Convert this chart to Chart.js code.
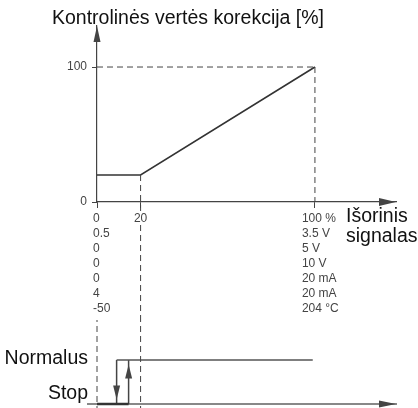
<!DOCTYPE html>
<html>
<head>
<meta charset="utf-8">
<script src="https://cdn.jsdelivr.net/npm/chart.js@4.4.1/dist/chart.umd.min.js"></script>
<style>
  body { margin: 0; background: #fff; }
  #wrap { position: relative; width: 418px; height: 408px; overflow: hidden; }
  canvas { position: absolute; left: 0; }
  #curve { top: 0; }
  #state { top: 320px; }
</style>
</head>
<body>
<div id="wrap">
  <canvas id="curve" width="418" height="320"></canvas>
  <canvas id="state" width="418" height="88"></canvas>
</div>
<script>
// correction curve: external signal (%) -> setpoint correction (%)
var signal = [0, 20, 100];
var correction = [20, 20, 100];
var xTicks = [0, 20, 100];
var yTicks = [0, 100];
var minLabels = ["0", "0.5", "0", "0", "0", "4", "-50"];
var maxLabels = ["100 %", "3.5 V", "5 V", "10 V", "20 mA", "20 mA", "204 °C"];

// stop / normal switching (hysteresis), 0 = Stop, 1 = Normalus
var states = ["Stop", "Normalus"];
var switchPoints = [9, 14.5]; // drop to Stop, back to Normalus
var normalEnd = 99;

var FONT = '"Liberation Sans", Arial, sans-serif';
var AXIS = "#444";

function arrowHead(ctx, x, y, dx, dy, len, half, color) {
  ctx.save();
  ctx.fillStyle = color;
  ctx.beginPath();
  ctx.moveTo(x, y);
  ctx.lineTo(x - dx * len - dy * half, y - dy * len + dx * half);
  ctx.lineTo(x - dx * len + dy * half, y - dy * len - dx * half);
  ctx.closePath();
  ctx.fill();
  ctx.restore();
}

function dashed(points) {
  return {
    data: points,
    borderColor: AXIS,
    borderWidth: 1,
    borderDash: [6, 4],
    pointRadius: 0,
    clip: false,
  };
}

var curveDeco = {
  id: "curveDeco",
  afterDraw: function (chart) {
    var ctx = chart.ctx;
    var a = chart.chartArea;
    var xs = chart.scales.x;
    arrowHead(ctx, a.left, a.top, 0, -1, 16, 3.5, AXIS);
    arrowHead(ctx, a.right, a.bottom, 1, 0, 17, 4, AXIS);

    ctx.save();
    ctx.fillStyle = "#111";
    ctx.textBaseline = "alphabetic";
    ctx.font = "19.5px " + FONT;
    ctx.textAlign = "left";
    ctx.fillText("Kontrolinės vertės korekcija [%]", 52, 24);
    ctx.fillText("Išorinis", 346, 222);
    ctx.fillText("signalas", 346, 242);

    // signal range columns under the axis
    ctx.font = "12px " + FONT;
    ctx.fillStyle = "#444";
    var base = a.bottom + 20;
    var x0 = xs.getPixelForValue(xTicks[0]);
    var x1 = xs.getPixelForValue(xTicks[1]);
    var x2 = xs.getPixelForValue(xTicks[2]);
    minLabels.forEach(function (t, i) {
      ctx.textAlign = "left";
      ctx.fillText(t, x0 - 4, base + i * 15);
    });
    maxLabels.forEach(function (t, i) {
      ctx.textAlign = "left";
      ctx.fillText(t, x2 - 13, base + i * 15);
    });
    ctx.textAlign = "center";
    var w = ctx.measureText(String(xTicks[1])).width;
    ctx.fillStyle = "#fff";
    ctx.fillRect(x1 - w / 2 - 1, base - 11, w + 2, 14);
    ctx.fillStyle = "#444";
    ctx.fillText(String(xTicks[1]), x1, base);
    ctx.restore();
  },
};

new Chart(document.getElementById("curve"), {
  type: "line",
  data: {
    datasets: [
      dashed([{ x: 0, y: 100 }, { x: 100, y: 100 }]),
      dashed([{ x: 100, y: 100 }, { x: 100, y: 0 }]),
      dashed([{ x: 20, y: 20 }, { x: 20, y: -100 }]),
      {
        data: signal.map(function (v, i) { return { x: v, y: correction[i] }; }),
        borderColor: "#333",
        borderWidth: 1.6,
        pointRadius: 0,
        clip: false,
      },
    ],
  },
  options: {
    responsive: false,
    animation: false,
    layout: { padding: { top: 26, right: 22, left: 0, bottom: 0 } },
    scales: {
      x: {
        type: "linear",
        min: 0,
        max: 137.2,
        grid: { drawOnChartArea: false, tickLength: 6, color: AXIS },
        border: { color: AXIS, width: 1.2 },
        ticks: { display: false },
        afterBuildTicks: function (s) {
          s.ticks = xTicks.map(function (v) { return { value: v }; });
        },
        afterFit: function (s) { s.height = 118; },
      },
      y: {
        type: "linear",
        min: 0,
        max: 130.4,
        grid: { drawOnChartArea: false, tickLength: 5, color: AXIS },
        border: { color: AXIS, width: 1.2 },
        ticks: { color: "#444", padding: 5, font: { size: 12, family: FONT } },
        afterBuildTicks: function (s) {
          s.ticks = yTicks.map(function (v) { return { value: v }; });
        },
        afterFit: function (s) { s.width = 97; },
      },
    },
    plugins: { legend: { display: false }, tooltip: { enabled: false } },
  },
  plugins: [curveDeco],
});

var stateDeco = {
  id: "stateDeco",
  afterDraw: function (chart) {
    var ctx = chart.ctx;
    var a = chart.chartArea;
    var ys = chart.scales.y;
    arrowHead(ctx, a.right, a.bottom, 1, 0, 17, 3.5, AXIS);

    // heads on the switching arrows
    chart.data.datasets.forEach(function (ds, i) {
      if (!ds.arrow) return;
      var pts = chart.getDatasetMeta(i).data;
      var p0 = pts[0], p1 = pts[1];
      var dx = p1.x - p0.x, dy = p1.y - p0.y;
      var len = Math.sqrt(dx * dx + dy * dy);
      dx /= len; dy /= len;
      arrowHead(ctx, p1.x - dx * 4.5, p1.y - dy * 4.5, dx, dy, 14, 3.5, AXIS);
    });

    ctx.save();
    ctx.fillStyle = "#111";
    ctx.font = "19.5px " + FONT;
    ctx.textAlign = "right";
    ctx.textBaseline = "alphabetic";
    ctx.fillText(states[1], a.left, ys.getPixelForValue(1) + 4);
    ctx.fillText(states[0], a.left, ys.getPixelForValue(0) - 5);
    ctx.restore();
  },
};

new Chart(document.getElementById("state"), {
  type: "line",
  data: {
    datasets: [
      dashed([{ x: 0, y: 2 }, { x: 0, y: -0.2 }]),
      dashed([{ x: 20, y: 2 }, { x: 20, y: -0.2 }]),
      {
        data: [{ x: switchPoints[0], y: 1 }, { x: normalEnd, y: 1 }],
        borderColor: "#555",
        borderWidth: 1.5,
        pointRadius: 0,
        clip: false,
      },
      {
        data: [{ x: 0, y: 0 }, { x: switchPoints[1], y: 0 }],
        borderColor: "#333",
        borderWidth: 2.5,
        pointRadius: 0,
        clip: false,
      },
      {
        arrow: true,
        data: [{ x: switchPoints[0], y: 1 }, { x: switchPoints[0], y: 0 }],
        borderColor: AXIS,
        borderWidth: 1.5,
        pointRadius: 0,
        clip: false,
      },
      {
        arrow: true,
        data: [{ x: switchPoints[1], y: 0 }, { x: switchPoints[1], y: 1 }],
        borderColor: AXIS,
        borderWidth: 1.5,
        pointRadius: 0,
        clip: false,
      },
    ],
  },
  options: {
    responsive: false,
    animation: false,
    layout: { padding: { top: 0, right: 22, left: 88, bottom: 0 } },
    scales: {
      x: {
        type: "linear",
        min: -4.13,
        max: 137.2,
        grid: { display: false },
        border: { color: "#888", width: 2 },
        ticks: { display: false },
        afterFit: function (s) { s.height = 4; },
      },
      y: {
        type: "linear",
        min: 0,
        max: 1.909,
        display: false,
      },
    },
    plugins: { legend: { display: false }, tooltip: { enabled: false } },
  },
  plugins: [stateDeco],
});
</script>
</body>
</html>
